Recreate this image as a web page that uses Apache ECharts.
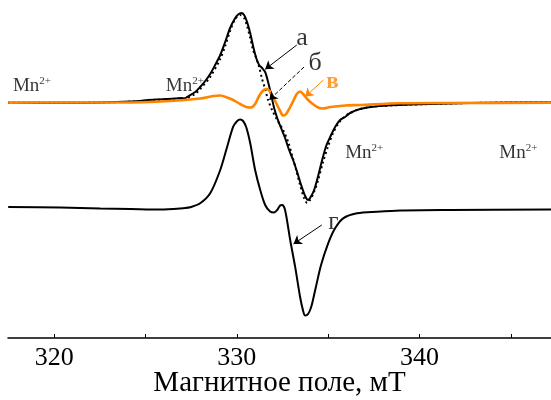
<!DOCTYPE html>
<html>
<head>
    <meta charset="utf-8">
    <title>ЭПР спектры</title>
    <script src="https://cdn.jsdelivr.net/npm/echarts@6/dist/echarts.min.js"></script>
    <style>
        html, body { margin: 0; padding: 0; background: #fff; }
        #chart1 { width: 551px; height: 400px; }
    </style>
</head>
<body>
<div id="chart1"></div>
<script type="text/javascript">
    // магнитное поле (мТ) и сигнал (отн. ед.) для каждого спектра
    var fieldA = [317.48, 320.33, 322.52, 324.16, 325.53, 326.62, 327.01, 327.12, 327.23, 327.72, 327.99, 328.27,
        328.54, 328.81, 329.09, 329.36, 329.63, 329.91, 330.07, 330.24, 330.40, 330.56, 330.73, 330.89, 331.06,
        331.22, 331.38, 331.55, 331.71, 331.88, 332.04, 332.21, 332.42, 332.64, 332.86, 333.08, 333.30, 333.52,
        333.74, 333.90, 334.07, 334.23, 334.45, 334.67, 334.89, 335.11, 335.38, 335.65, 335.93, 336.20, 336.75,
        337.57, 338.94, 340.58, 342.77, 344.96, 347.20];
    var signalA = [0, 0, 0.2, 1.2, 3.2, 4.2, 4.7, 3.2, 5.2, 10.7, 15.7, 21.7,
        28.7, 37.7, 47.7, 60.7, 74.7, 84.7, 88.2, 89.7, 87.7, 80.7, 69.7, 56.7, 44.7,
        37.7, 34.7, 30.7, 20.7, 7.7, -5.3, -15.3, -25.3, -35.3, -47.3, -57.3, -69.3, -82.3,
        -93.3, -97.3, -93.3, -87.3, -73.3, -57.3, -43.3, -34.3, -24.3, -17.3, -14.3, -10.3, -6.3,
        -3.8, -2.3, -1.3, -0.3, 0.2, 0.2];

    var fieldB = [317.48, 320.33, 322.52, 324.16, 325.53, 326.62, 327.23, 327.72, 327.99, 328.54, 329.09, 329.36,
        329.63, 329.91, 330.18, 330.40, 330.56, 330.73, 330.89, 331.06, 331.22, 331.38, 331.55, 331.71, 331.93,
        332.21, 332.53, 332.81, 333.03, 333.25, 333.46, 333.68, 333.85, 334.01, 334.23, 334.45, 334.72, 335.00,
        335.27, 335.54, 335.82, 336.20, 336.75, 337.57, 338.94, 340.58, 342.77, 344.96, 347.20];
    var signalB = [0, 0, 0.2, 1, 2.7, 3.7, 4.7, 8.7, 13.7, 25.7, 43.7, 56.7,
        71.7, 83.7, 87.7, 84.7, 76.7, 64.7, 52.7, 44.7, 35.7, 23.7, 13.7, 2.7, -7.3,
        -17.3, -27.3, -39.3, -53.3, -67.3, -82.3, -95.3, -100.3, -97.3, -89.3, -77.3, -59.3, -43.3,
        -30.3, -21.3, -15.3, -10.3, -6.3, -3.8, -2.3, -1.3, -0.3, 0.2, 0.2];

    var fieldV = [317.48, 320.33, 323.61, 326.35, 327.99, 328.70, 329.09, 329.47, 329.80, 330.18, 330.51, 330.78,
        331.00, 331.22, 331.44, 331.60, 331.77, 331.93, 332.15, 332.37, 332.53, 332.70, 332.92, 333.14, 333.30,
        333.46, 333.63, 333.85, 334.12, 334.45, 334.72, 335.11, 335.93, 336.75, 338.94, 341.67, 347.20];
    var signalV = [0, 0.2, 0.2, 1.7, 4.2, 6.7, 7.2, 5.2, 2.7, -1.3, -4.3, -4.8,
        -1.3, 6.7, 12.2, 13.7, 12.2, 7.7, -0.3, -8.3, -12.8, -11.3, -4.3, 3.7, 9.2,
        11.2, 8.7, 3.7, -0.8, -4.8, -5.8, -4.3, -2.8, -2.3, -0.6, -0.3, 0];

    var fieldG = [317.48, 320.33, 322.52, 324.16, 325.80, 327.17, 327.44, 327.99, 328.54, 329.09, 329.47, 329.80,
        330.02, 330.18, 330.34, 330.51, 330.73, 331.00, 331.28, 331.55, 331.82, 332.04, 332.21, 332.37, 332.48,
        332.64, 332.92, 333.19, 333.46, 333.63, 333.74, 333.90, 334.07, 334.29, 334.61, 335.00, 335.38, 335.82,
        336.58, 337.68, 338.94, 341.67, 347.20];
    var signalG = [2, 1.5, 0.5, 0, -0.5, 1, 1.7, 5.7, 15.7, 39, 62.3, 82.3,
        88, 89.5, 88, 82, 66, 39, 19, 4, -2.5, -3.5, -1, 3.5, 4,
        -1, -31, -57.7, -87.7, -102, -106.5, -105, -98, -81, -56, -34.3, -19.3, -9.3,
        -4.3, -2.7, -1.5, -1, -0.5];

    var xTicks = [320, 325, 330, 335, 340, 345];
    var xLabels = [320, 330, 340];

    // подписи и стрелки (в координатах графика)
    var mnNotes = [[317.74, 252], [326.11, 252], [335.93, 185.5], [344.37, 185.5]];
    var letterNotes = [
        {text: 'а', pos: [333.57, 300], color: '#000', size: 26, weight: 'normal'},
        {text: 'б', pos: [334.29, 275], color: '#000', size: 26, weight: 'normal'},
        {text: 'в', pos: [335.24, 256], color: '#ff8400', size: 23, weight: 'bold'},
        {text: 'г', pos: [335.29, 115.5], color: '#000', size: 25, weight: 'normal'}
    ];
    var arrows = [
        {from: [333.28, 293], to: [331.55, 268.7], color: '#000', type: 'solid'},
        {from: [333.68, 271], to: [331.77, 238], color: '#000', type: 'dashed'},
        {from: [334.74, 258], to: [333.74, 241.3], color: '#ff8400', type: 'solid'},
        {from: [334.65, 113], to: [333.10, 94], color: '#000', type: 'solid'}
    ];

    var TOP_BASE = 235.3;
    var LOW_BASE = 129;

    function pairs(xs, ys, base) {
        return xs.map(function (x, i) { return [x, ys[i] + base]; });
    }

    var serif = 'Liberation Serif';
    var myChart1 = echarts.init(document.getElementById('chart1'));

    myChart1.setOption({
        animation: false,
        backgroundColor: '#fff',
        grid: {left: 8, right: 0, top: 0, bottom: 62, outerBoundsMode: 'none', containLabel: false},
        xAxis: {
            type: 'value',
            min: 317.47,
            max: 347.2,
            name: 'Магнитное поле, мТ',
            nameLocation: 'middle',
            nameGap: 31,
            nameMoveOverlap: false,
            nameTextStyle: {fontFamily: serif, fontSize: 29, color: '#000'},
            axisLine: {lineStyle: {color: '#000', width: 1.5}},
            axisTick: {show: true, inside: true, length: 4, customValues: xTicks, lineStyle: {color: '#000'}},
            axisLabel: {customValues: xLabels, margin: 7, fontFamily: serif, fontSize: 26, color: '#000'},
            splitLine: {show: false}
        },
        yAxis: {
            type: 'value',
            min: 0,
            max: 338,
            show: false
        },
        series: [
            {
                name: 'г', type: 'line', showSymbol: false, smooth: 0.3,
                data: pairs(fieldG, signalG, LOW_BASE),
                lineStyle: {color: '#000', width: 2}
            },
            {
                name: 'а', type: 'line', showSymbol: false, smooth: 0.3,
                data: pairs(fieldA, signalA, TOP_BASE),
                lineStyle: {color: '#000', width: 2}
            },
            {
                name: 'б', type: 'line', showSymbol: false, smooth: 0.3,
                data: pairs(fieldB, signalB, TOP_BASE),
                lineStyle: {color: '#000', width: 2, type: [2, 3]}
            },
            {
                name: 'в', type: 'line', showSymbol: false, smooth: 0.3,
                data: pairs(fieldV, signalV, TOP_BASE),
                lineStyle: {color: '#ff8400', width: 2.6},
                markLine: {
                    silent: true,
                    symbol: ['none', 'arrow'],
                    symbolSize: 8,
                    label: {show: false},
                    data: arrows.map(function (a) {
                        return [
                            {coord: a.from, lineStyle: {color: a.color, type: a.type, width: 1}, itemStyle: {color: a.color}},
                            {coord: a.to, itemStyle: {color: a.color}}
                        ];
                    })
                }
            },
            {
                name: 'Mn', type: 'scatter', symbolSize: 0, silent: true,
                data: mnNotes,
                label: {
                    show: true, position: 'right', distance: 0,
                    formatter: '{m|Mn}{s|2+}',
                    rich: {
                        m: {fontFamily: serif, fontSize: 19, color: '#000', verticalAlign: 'bottom', lineHeight: 20},
                        s: {fontFamily: serif, fontSize: 11, color: '#000', verticalAlign: 'bottom', lineHeight: 20, padding: [0, 0, 9, 0]}
                    }
                }
            },
            {
                name: 'letters', type: 'scatter', symbolSize: 0, silent: true,
                data: letterNotes.map(function (n) {
                    return {
                        value: n.pos,
                        label: {formatter: n.text, color: n.color, fontSize: n.size, fontWeight: n.weight}
                    };
                }),
                label: {show: true, position: 'inside', fontFamily: serif}
            }
        ]
    });
</script>
</body>
</html>
